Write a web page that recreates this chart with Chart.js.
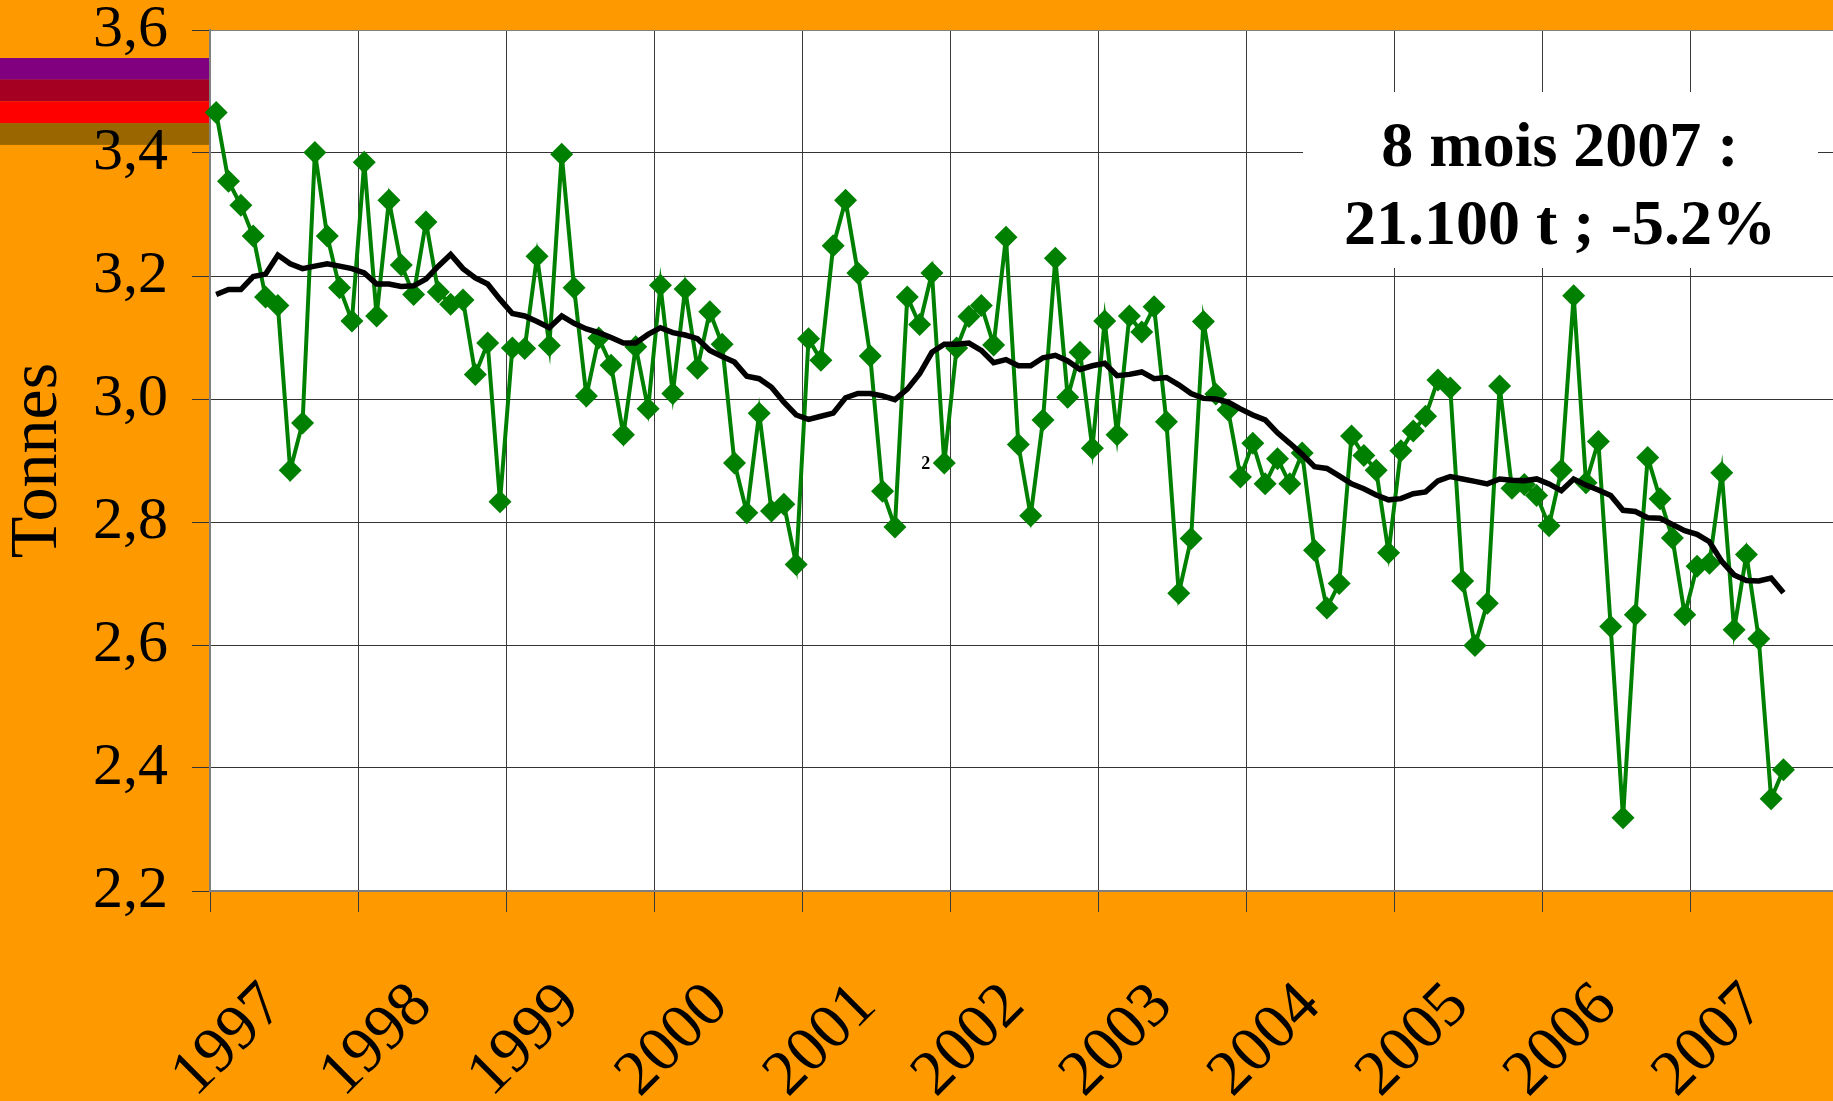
<!DOCTYPE html>
<html>
<head>
<meta charset="utf-8">
<script src="https://cdn.jsdelivr.net/npm/chart.js@4.4.1/dist/chart.umd.min.js"></script>
<style>
  html, body { margin: 0; padding: 0; background: #FF9900; overflow: hidden; }
  /* the plot runs a few pixels past the right edge of the picture */
  #wrap { width: 1833px; height: 1101px; overflow: hidden; }
</style>
</head>
<body>
<div id="wrap"><canvas id="myChart" width="1839" height="1101"></canvas></div>
<script>
// year labels on the x axis (one category per month, 12 per year)
const years = ['1997','1998','1999','2000','2001','2002','2003','2004','2005','2006','2007'];

// monthly tonnage, Jan 1997 .. Aug 2007
const monthly = [
  3.466,3.354,3.315,3.265,3.166,3.152,2.884,2.961,3.401,3.265,3.181,3.127,
  3.385,3.135,3.323,3.218,3.170,3.288,3.174,3.154,3.161,3.040,3.091,2.833,
  3.083,3.082,3.232,3.087,3.398,3.181,3.005,3.099,3.055,2.942,3.085,2.984,
  3.185,3.009,3.179,3.050,3.142,3.089,2.896,2.815,2.977,2.818,2.829,2.731,
  3.098,3.063,3.249,3.323,3.205,3.070,2.850,2.792,3.166,3.121,3.205,2.896,
  3.083,3.134,3.152,3.088,3.263,2.926,2.810,2.966,3.229,3.003,3.076,2.920,
  3.127,2.942,3.135,3.109,3.150,2.963,2.684,2.773,3.126,3.008,2.982,2.873,
  2.928,2.862,2.903,2.862,2.912,2.754,2.660,2.700,2.940,2.908,2.884,2.750,
  2.916,2.948,2.972,3.031,3.018,2.704,2.599,2.668,3.021,2.855,2.861,2.843,
  2.794,2.884,3.168,2.864,2.931,2.630,2.319,2.649,2.905,2.838,2.774,2.649,
  2.728,2.733,2.880,2.625,2.747,2.610,2.350,2.397
];

// 12 month moving average
const movingAvg = [
  3.170,3.178,3.178,3.199,3.203,3.234,3.220,3.212,3.216,3.220,3.216,3.212,
  3.205,3.187,3.187,3.183,3.184,3.195,3.216,3.235,3.212,3.197,3.187,3.162,
  3.139,3.135,3.126,3.116,3.135,3.123,3.114,3.108,3.100,3.091,3.091,3.105,
  3.116,3.108,3.104,3.098,3.079,3.069,3.060,3.037,3.033,3.019,2.995,2.974,
  2.967,2.972,2.977,3.002,3.009,3.009,3.005,2.999,3.016,3.041,3.076,3.089,
  3.089,3.091,3.079,3.059,3.064,3.054,3.054,3.067,3.071,3.062,3.048,3.054,
  3.058,3.038,3.040,3.044,3.033,3.035,3.023,3.009,3.001,3.000,2.995,2.984,
  2.974,2.966,2.945,2.928,2.910,2.890,2.887,2.875,2.862,2.854,2.844,2.836,
  2.838,2.846,2.849,2.867,2.874,2.870,2.866,2.862,2.870,2.868,2.867,2.870,
  2.862,2.851,2.870,2.860,2.852,2.843,2.819,2.817,2.807,2.806,2.796,2.786,
  2.780,2.768,2.736,2.714,2.705,2.704,2.709,2.685
];

const noteLines = ['8 mois 2007 :', '21.100 t ; -5.2%'];
const stripeColors = ['#800080', '#A50021', '#FF0000', '#996600'];

var months = [];
years.forEach(function(y) {
  for (var m = 1; m <= 12; m++) months.push(y + '-' + String(m).padStart(2, '0'));
});

const serif = '"Liberation Serif", "Times New Roman", serif';

const decor = {
  id: 'decor',
  beforeDraw(chart) {
    const ctx = chart.ctx, a = chart.chartArea;
    ctx.save();
    ctx.fillStyle = '#FF9900';
    ctx.fillRect(0, 0, chart.width, chart.height);
    ctx.fillStyle = '#FFFFFF';
    ctx.fillRect(a.left, a.top, a.right - a.left, a.bottom - a.top);
    // the four coloured bands left of the plot
    stripeColors.forEach(function(c, i) {
      ctx.fillStyle = c;
      ctx.fillRect(0, a.top + 28 + i * 21.7, a.left, 21.8);
    });
    ctx.restore();
  },
  beforeDatasetsDraw(chart) {
    const ctx = chart.ctx;
    ctx.save();
    ctx.fillStyle = '#FFFFFF';
    ctx.fillRect(1303, 92, 515, 176);
    ctx.fillStyle = '#000';
    ctx.font = 'bold 64px ' + serif;
    ctx.textAlign = 'center';
    ctx.textBaseline = 'alphabetic';
    ctx.fillText(noteLines[0], 1560, 166);
    ctx.fillText(noteLines[1], 1560, 244);
    // stray small label inside the plot
    const xs = chart.scales.x, ys = chart.scales.y;
    ctx.font = 'bold 18px ' + serif;
    ctx.textBaseline = 'middle';
    ctx.fillText('2', xs.getPixelForValue(57.5), ys.getPixelForValue(2.893));
    ctx.restore();
  }
};

var mychart = new Chart(document.getElementById('myChart').getContext('2d'), {
  type: 'line',
  data: {
    labels: months,
    datasets: [{
      data: movingAvg,
      borderColor: '#000000',
      borderWidth: 5.5,
      pointRadius: 0,
      fill: false,
      order: 0
    }, {
      data: monthly,
      borderColor: '#008000',
      borderWidth: 4,
      pointStyle: 'rectRot',
      pointRadius: 11.5,
      pointBackgroundColor: '#008000',
      pointBorderColor: '#008000',
      pointBorderWidth: 0,
      fill: false,
      clip: false,
      order: 1
    }]
  },
  options: {
    responsive: false,
    devicePixelRatio: 1,
    animation: false,
    layout: { autoPadding: false, padding: { top: 30, right: 0, bottom: 0, left: 0 } },
    plugins: { legend: { display: false }, tooltip: { enabled: false } },
    scales: {
      x: {
        type: 'category',
        offset: true,
        grid: {
          offset: true,
          color: function(c) { return c.index % 12 === 0 ? '#3a3a3a' : 'rgba(0,0,0,0)'; },
          lineWidth: 1,
          tickLength: 21
        },
        border: { display: true, color: '#7f7f7f', width: 2 },
        ticks: {
          autoSkip: false,
          minRotation: 45,
          maxRotation: 45,
          padding: 61,
          labelOffset: 58,
          color: '#000',
          font: { family: serif, size: 64, lineHeight: 1 },
          callback: function(v, i) { return i % 12 === 0 ? years[i / 12] : ''; }
        },
        afterFit: function(s) { s.height = 210; s.paddingLeft = 0; s.paddingRight = 0; }
      },
      y: {
        min: 2.2,
        max: 3.6,
        ticks: {
          stepSize: 0.2,
          padding: 24,
          color: '#000',
          font: { family: serif, size: 60, lineHeight: 1 },
          callback: function(v) { return v.toFixed(1).replace('.', ','); }
        },
        grid: {
          color: function(c) { return c.tick && Math.abs(c.tick.value - 3.6) < 1e-6 ? '#808080' : '#333333'; },
          lineWidth: 1,
          tickLength: 18,
          tickColor: '#333333'
        },
        border: { display: true, color: '#7f7f7f', width: 2 },
        title: {
          display: true,
          text: 'Tonnes',
          color: '#000',
          font: { family: serif, size: 68, lineHeight: 1 },
          padding: { top: 4, bottom: 0 }
        },
        afterFit: function(s) { s.width = 210; s.paddingTop = 0; s.paddingBottom = 0; }
      }
    }
  },
  plugins: [decor]
});
</script>
</body>
</html>
